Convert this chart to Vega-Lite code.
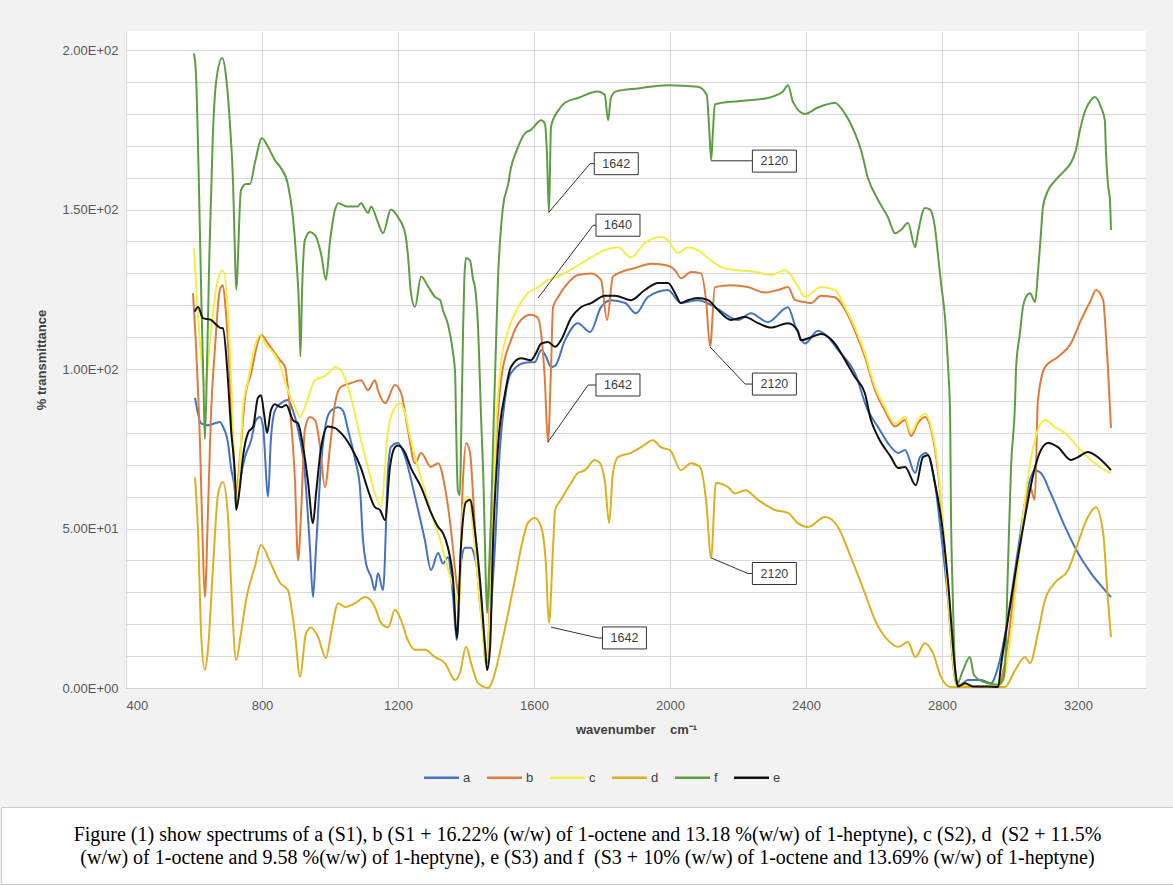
{
"$schema":"https://vega.github.io/schema/vega-lite/v6.json",
"background":"#f2f2f2",
"padding":{"left":0,"top":31,"right":0,"bottom":0},
"config":{"font":"Liberation Sans","view":{"stroke":null}},
"datasets":{
"cap":[{"t":"Figure (1) show spectrums of a (S1), b (S1 + 16.22% (w/w) of 1-octene and 13.18 %(w/w) of 1-heptyne), c (S2), d \u00a0(S2 + 11.5%\n(w/w) of 1-octene and 9.58 %(w/w) of 1-heptyne), e (S3) and f \u00a0(S3 + 10% (w/w) of 1-octene and 13.69% (w/w) of 1-heptyne)"}],
"boxes":[{"t":"1642","w":1842,"v":164.4},{"t":"1640","w":1847,"v":145.1},{"t":"1642","w":1847,"v":95.0},{"t":"2120","w":2307,"v":165.2},{"t":"2120","w":2307,"v":95.3},{"t":"2120","w":2307,"v":35.9},{"t":"1642","w":1866,"v":15.7}],
"leaders":[
{"id":1,"w":1644,"v":149.2},{"id":1,"w":1765,"v":164.4},{"id":1,"w":1778,"v":164.4},
{"id":2,"w":1612,"v":122.3},{"id":2,"w":1774,"v":145.1},{"id":2,"w":1783,"v":145.1},
{"id":3,"w":1641,"v":77.1},{"id":3,"w":1759,"v":95.0},{"id":3,"w":1783,"v":95.0},
{"id":4,"w":2121,"v":165.3},{"id":4,"w":2243,"v":165.3},
{"id":5,"w":2118,"v":106.9},{"id":5,"w":2221,"v":95.3},{"id":5,"w":2243,"v":95.3},
{"id":6,"w":2121,"v":40.8},{"id":6,"w":2229,"v":35.9},{"id":6,"w":2243,"v":35.9},
{"id":7,"w":1650,"v":19.1},{"id":7,"w":1788,"v":15.7},{"id":7,"w":1802,"v":15.7}],
"spec":[
{"s":"a","w":603,"v":91},{"s":"a","w":621,"v":83},{"s":"a","w":641,"v":82.4},{"s":"a","w":662,"v":83},{"s":"a","w":676,"v":83.4},{"s":"a","w":685,"v":82},{"s":"a","w":700,"v":76.8},{"s":"a","w":709,"v":69},{"s":"a","w":721,"v":61},{"s":"a","w":724,"v":56.7},{"s":"a","w":735,"v":65},{"s":"a","w":750,"v":72.4},{"s":"a","w":768,"v":77.7},{"s":"a","w":782,"v":84},{"s":"a","w":794,"v":85},{"s":"a","w":803,"v":82},{"s":"a","w":818,"v":60},{"s":"a","w":826,"v":77.7},{"s":"a","w":838,"v":87},{"s":"a","w":856,"v":89.3},{"s":"a","w":876,"v":90.3},{"s":"a","w":891,"v":87},{"s":"a","w":906,"v":81},{"s":"a","w":926,"v":67.4},{"s":"a","w":941,"v":44},{"s":"a","w":950,"v":28.5},{"s":"a","w":959,"v":44},{"s":"a","w":974,"v":70.5},{"s":"a","w":988,"v":83},{"s":"a","w":1003,"v":87},{"s":"a","w":1024,"v":88},{"s":"a","w":1038,"v":87},{"s":"a","w":1053,"v":81},{"s":"a","w":1074,"v":71.5},{"s":"a","w":1088,"v":63},{"s":"a","w":1097,"v":46.4},{"s":"a","w":1106,"v":39},{"s":"a","w":1121,"v":34.8},{"s":"a","w":1132,"v":30.7},{"s":"a","w":1141,"v":36},{"s":"a","w":1156,"v":30.7},{"s":"a","w":1171,"v":69},{"s":"a","w":1179,"v":75.5},{"s":"a","w":1200,"v":76.8},{"s":"a","w":1221,"v":72.4},{"s":"a","w":1250,"v":60},{"s":"a","w":1279,"v":46.4},{"s":"a","w":1297,"v":37},{"s":"a","w":1318,"v":42.3},{"s":"a","w":1332,"v":39},{"s":"a","w":1347,"v":41},{"s":"a","w":1362,"v":28.5},{"s":"a","w":1373,"v":15},{"s":"a","w":1385,"v":39},{"s":"a","w":1397,"v":44},{"s":"a","w":1415,"v":44},{"s":"a","w":1426,"v":41},{"s":"a","w":1444,"v":28.5},{"s":"a","w":1459,"v":7.8},{"s":"a","w":1474,"v":25},{"s":"a","w":1485,"v":44},{"s":"a","w":1500,"v":75.5},{"s":"a","w":1515,"v":91},{"s":"a","w":1532,"v":98.7},{"s":"a","w":1573,"v":102},{"s":"a","w":1603,"v":102.2},{"s":"a","w":1621,"v":106},{"s":"a","w":1635,"v":104},{"s":"a","w":1650,"v":100.6},{"s":"a","w":1662,"v":101},{"s":"a","w":1691,"v":109},{"s":"a","w":1729,"v":114.4},{"s":"a","w":1765,"v":111.6},{"s":"a","w":1797,"v":119.4},{"s":"a","w":1826,"v":121.6},{"s":"a","w":1868,"v":120.7},{"s":"a","w":1900,"v":117.5},{"s":"a","w":1935,"v":122.6},{"s":"a","w":1994,"v":124.8},{"s":"a","w":2032,"v":120.7},{"s":"a","w":2082,"v":121.6},{"s":"a","w":2132,"v":119.4},{"s":"a","w":2200,"v":115.4},{"s":"a","w":2238,"v":117.5},{"s":"a","w":2288,"v":114.7},{"s":"a","w":2347,"v":119.4},{"s":"a","w":2370,"v":113},{"s":"a","w":2397,"v":108},{"s":"a","w":2435,"v":112},{"s":"a","w":2465,"v":110},{"s":"a","w":2494,"v":106},{"s":"a","w":2544,"v":98.7},{"s":"a","w":2582,"v":87},{"s":"a","w":2612,"v":81.8},{"s":"a","w":2641,"v":76.8},{"s":"a","w":2671,"v":73.7},{"s":"a","w":2691,"v":74.6},{"s":"a","w":2721,"v":67.4},{"s":"a","w":2735,"v":72.4},{"s":"a","w":2753,"v":73.7},{"s":"a","w":2779,"v":64.3},{"s":"a","w":2797,"v":48.6},{"s":"a","w":2818,"v":27.6},{"s":"a","w":2838,"v":3.5},{"s":"a","w":2853,"v":1},{"s":"a","w":2876,"v":2.5},{"s":"a","w":2915,"v":2.5},{"s":"a","w":2944,"v":1.5},{"s":"a","w":2965,"v":6.6},{"s":"a","w":2994,"v":22},{"s":"a","w":3023,"v":43},{"s":"a","w":3053,"v":63},{"s":"a","w":3073,"v":68.3},{"s":"a","w":3091,"v":67.4},{"s":"a","w":3120,"v":61},{"s":"a","w":3162,"v":50.5},{"s":"a","w":3200,"v":42.3},{"s":"a","w":3238,"v":36},{"s":"a","w":3279,"v":30.7},{"s":"a","w":3297,"v":28.5},
{"s":"b","w":597,"v":123.8},{"s":"b","w":606,"v":107},{"s":"b","w":618,"v":75.5},{"s":"b","w":626,"v":44},{"s":"b","w":632,"v":28.5},{"s":"b","w":641,"v":54.9},{"s":"b","w":650,"v":86},{"s":"b","w":662,"v":107},{"s":"b","w":676,"v":124.8},{"s":"b","w":685,"v":126.3},{"s":"b","w":694,"v":117.5},{"s":"b","w":706,"v":96.5},{"s":"b","w":715,"v":75.5},{"s":"b","w":724,"v":61},{"s":"b","w":735,"v":72},{"s":"b","w":750,"v":91},{"s":"b","w":768,"v":98.7},{"s":"b","w":788,"v":108.5},{"s":"b","w":797,"v":110.7},{"s":"b","w":818,"v":108},{"s":"b","w":838,"v":105},{"s":"b","w":853,"v":102.8},{"s":"b","w":868,"v":100.6},{"s":"b","w":876,"v":94.4},{"s":"b","w":885,"v":84},{"s":"b","w":897,"v":65},{"s":"b","w":906,"v":40},{"s":"b","w":915,"v":55},{"s":"b","w":926,"v":81},{"s":"b","w":941,"v":85},{"s":"b","w":956,"v":84},{"s":"b","w":971,"v":75.5},{"s":"b","w":985,"v":63},{"s":"b","w":1000,"v":75.5},{"s":"b","w":1015,"v":89.3},{"s":"b","w":1032,"v":94.4},{"s":"b","w":1062,"v":95.6},{"s":"b","w":1091,"v":96.5},{"s":"b","w":1112,"v":93.4},{"s":"b","w":1132,"v":96.5},{"s":"b","w":1141,"v":93.4},{"s":"b","w":1162,"v":89.3},{"s":"b","w":1191,"v":95},{"s":"b","w":1209,"v":92.5},{"s":"b","w":1229,"v":81},{"s":"b","w":1250,"v":70.5},{"s":"b","w":1268,"v":73.7},{"s":"b","w":1297,"v":69.3},{"s":"b","w":1318,"v":70.5},{"s":"b","w":1338,"v":63},{"s":"b","w":1356,"v":49.5},{"s":"b","w":1371,"v":34},{"s":"b","w":1379,"v":28.5},{"s":"b","w":1391,"v":65},{"s":"b","w":1400,"v":76.8},{"s":"b","w":1412,"v":73.7},{"s":"b","w":1421,"v":60},{"s":"b","w":1435,"v":34},{"s":"b","w":1456,"v":13},{"s":"b","w":1462,"v":7.8},{"s":"b","w":1474,"v":44},{"s":"b","w":1488,"v":75.5},{"s":"b","w":1503,"v":96.5},{"s":"b","w":1532,"v":109},{"s":"b","w":1562,"v":115.4},{"s":"b","w":1591,"v":117},{"s":"b","w":1612,"v":116},{"s":"b","w":1621,"v":111},{"s":"b","w":1632,"v":96.5},{"s":"b","w":1641,"v":77.1},{"s":"b","w":1650,"v":100},{"s":"b","w":1656,"v":119.4},{"s":"b","w":1671,"v":122.6},{"s":"b","w":1700,"v":127},{"s":"b","w":1729,"v":129.5},{"s":"b","w":1768,"v":130},{"s":"b","w":1797,"v":128},{"s":"b","w":1815,"v":115.4},{"s":"b","w":1832,"v":129},{"s":"b","w":1856,"v":130.4},{"s":"b","w":1897,"v":131.7},{"s":"b","w":1944,"v":133},{"s":"b","w":1985,"v":132.6},{"s":"b","w":2015,"v":131},{"s":"b","w":2032,"v":128.5},{"s":"b","w":2062,"v":130.4},{"s":"b","w":2091,"v":130},{"s":"b","w":2106,"v":121.6},{"s":"b","w":2118,"v":107},{"s":"b","w":2132,"v":125.7},{"s":"b","w":2179,"v":126.3},{"s":"b","w":2229,"v":125.7},{"s":"b","w":2279,"v":124},{"s":"b","w":2318,"v":124.8},{"s":"b","w":2347,"v":125.7},{"s":"b","w":2368,"v":121.6},{"s":"b","w":2397,"v":121},{"s":"b","w":2415,"v":120.7},{"s":"b","w":2444,"v":123},{"s":"b","w":2485,"v":122.5},{"s":"b","w":2515,"v":118.5},{"s":"b","w":2544,"v":112},{"s":"b","w":2573,"v":104},{"s":"b","w":2603,"v":93.4},{"s":"b","w":2632,"v":87},{"s":"b","w":2662,"v":82},{"s":"b","w":2691,"v":84},{"s":"b","w":2709,"v":79},{"s":"b","w":2729,"v":83},{"s":"b","w":2750,"v":85},{"s":"b","w":2768,"v":81},{"s":"b","w":2788,"v":68},{"s":"b","w":2809,"v":42},{"s":"b","w":2826,"v":16},{"s":"b","w":2841,"v":1.5},{"s":"b","w":2891,"v":0.5},{"s":"b","w":2965,"v":0.5},{"s":"b","w":2985,"v":8},{"s":"b","w":3015,"v":33},{"s":"b","w":3044,"v":55},{"s":"b","w":3059,"v":63},{"s":"b","w":3073,"v":59},{"s":"b","w":3082,"v":90},{"s":"b","w":3103,"v":100.6},{"s":"b","w":3141,"v":103.8},{"s":"b","w":3179,"v":108},{"s":"b","w":3209,"v":115.4},{"s":"b","w":3238,"v":121.6},{"s":"b","w":3253,"v":124.8},{"s":"b","w":3274,"v":121.6},{"s":"b","w":3282,"v":111},{"s":"b","w":3288,"v":100.6},{"s":"b","w":3297,"v":81.5},
{"s":"c","w":600,"v":138},{"s":"c","w":615,"v":112},{"s":"c","w":632,"v":95},{"s":"c","w":650,"v":112},{"s":"c","w":670,"v":128},{"s":"c","w":685,"v":131},{"s":"c","w":700,"v":118},{"s":"c","w":712,"v":90},{"s":"c","w":724,"v":58},{"s":"c","w":735,"v":70},{"s":"c","w":744,"v":88},{"s":"c","w":759,"v":96.5},{"s":"c","w":779,"v":107},{"s":"c","w":794,"v":110.7},{"s":"c","w":809,"v":108},{"s":"c","w":826,"v":106},{"s":"c","w":847,"v":102.8},{"s":"c","w":876,"v":93.4},{"s":"c","w":897,"v":88},{"s":"c","w":912,"v":85},{"s":"c","w":926,"v":88},{"s":"c","w":956,"v":96.5},{"s":"c","w":988,"v":98},{"s":"c","w":1015,"v":100.6},{"s":"c","w":1032,"v":99.7},{"s":"c","w":1062,"v":91},{"s":"c","w":1091,"v":77.7},{"s":"c","w":1112,"v":69},{"s":"c","w":1132,"v":61},{"s":"c","w":1150,"v":57},{"s":"c","w":1171,"v":81},{"s":"c","w":1191,"v":88},{"s":"c","w":1206,"v":89.3},{"s":"c","w":1221,"v":86},{"s":"c","w":1238,"v":77.7},{"s":"c","w":1259,"v":69},{"s":"c","w":1279,"v":62},{"s":"c","w":1297,"v":55},{"s":"c","w":1318,"v":48.6},{"s":"c","w":1338,"v":41},{"s":"c","w":1356,"v":34},{"s":"c","w":1371,"v":28.5},{"s":"c","w":1379,"v":25},{"s":"c","w":1391,"v":56.7},{"s":"c","w":1406,"v":60},{"s":"c","w":1426,"v":44},{"s":"c","w":1444,"v":23.5},{"s":"c","w":1459,"v":7.8},{"s":"c","w":1474,"v":34},{"s":"c","w":1488,"v":81},{"s":"c","w":1503,"v":102},{"s":"c","w":1524,"v":112},{"s":"c","w":1553,"v":119.4},{"s":"c","w":1582,"v":123.8},{"s":"c","w":1612,"v":125.7},{"s":"c","w":1641,"v":128},{"s":"c","w":1671,"v":129},{"s":"c","w":1721,"v":132},{"s":"c","w":1768,"v":135},{"s":"c","w":1809,"v":137.3},{"s":"c","w":1847,"v":138.2},{"s":"c","w":1885,"v":135},{"s":"c","w":1926,"v":139.5},{"s":"c","w":1973,"v":141.4},{"s":"c","w":1994,"v":140.4},{"s":"c","w":2023,"v":136.4},{"s":"c","w":2053,"v":138.2},{"s":"c","w":2082,"v":137.3},{"s":"c","w":2121,"v":134},{"s":"c","w":2162,"v":131.5},{"s":"c","w":2200,"v":131},{"s":"c","w":2250,"v":130.5},{"s":"c","w":2297,"v":129.5},{"s":"c","w":2338,"v":131},{"s":"c","w":2376,"v":126},{"s":"c","w":2397,"v":122.6},{"s":"c","w":2444,"v":125.7},{"s":"c","w":2485,"v":124.8},{"s":"c","w":2515,"v":119.4},{"s":"c","w":2544,"v":113},{"s":"c","w":2573,"v":105},{"s":"c","w":2603,"v":94.4},{"s":"c","w":2632,"v":88},{"s":"c","w":2662,"v":83},{"s":"c","w":2691,"v":85},{"s":"c","w":2709,"v":80},{"s":"c","w":2729,"v":84},{"s":"c","w":2750,"v":86},{"s":"c","w":2768,"v":81.8},{"s":"c","w":2788,"v":69.3},{"s":"c","w":2809,"v":43},{"s":"c","w":2826,"v":17},{"s":"c","w":2841,"v":1.6},{"s":"c","w":2906,"v":0.5},{"s":"c","w":2974,"v":1},{"s":"c","w":3003,"v":17},{"s":"c","w":3023,"v":38},{"s":"c","w":3044,"v":59},{"s":"c","w":3073,"v":77.7},{"s":"c","w":3103,"v":84},{"s":"c","w":3132,"v":81.8},{"s":"c","w":3162,"v":80},{"s":"c","w":3200,"v":75.5},{"s":"c","w":3238,"v":71.5},{"s":"c","w":3279,"v":68.3},{"s":"c","w":3297,"v":67.4},
{"s":"d","w":603,"v":66},{"s":"d","w":612,"v":48.6},{"s":"d","w":621,"v":17},{"s":"d","w":632,"v":5.6},{"s":"d","w":641,"v":12},{"s":"d","w":656,"v":38},{"s":"d","w":671,"v":61},{"s":"d","w":685,"v":64.6},{"s":"d","w":700,"v":53.6},{"s":"d","w":709,"v":33},{"s":"d","w":724,"v":8.8},{"s":"d","w":738,"v":17},{"s":"d","w":753,"v":27.6},{"s":"d","w":779,"v":38},{"s":"d","w":797,"v":44.8},{"s":"d","w":826,"v":39},{"s":"d","w":853,"v":33},{"s":"d","w":876,"v":30.7},{"s":"d","w":897,"v":17},{"s":"d","w":912,"v":3.5},{"s":"d","w":929,"v":17},{"s":"d","w":944,"v":19},{"s":"d","w":965,"v":16},{"s":"d","w":988,"v":9.4},{"s":"d","w":1003,"v":17},{"s":"d","w":1024,"v":26.6},{"s":"d","w":1044,"v":25.4},{"s":"d","w":1074,"v":26.6},{"s":"d","w":1103,"v":28.5},{"s":"d","w":1132,"v":25.4},{"s":"d","w":1150,"v":20.4},{"s":"d","w":1171,"v":19},{"s":"d","w":1191,"v":24.5},{"s":"d","w":1209,"v":21.3},{"s":"d","w":1229,"v":15},{"s":"d","w":1250,"v":12},{"s":"d","w":1279,"v":12},{"s":"d","w":1309,"v":9.7},{"s":"d","w":1338,"v":7.8},{"s":"d","w":1368,"v":2.5},{"s":"d","w":1382,"v":4.7},{"s":"d","w":1400,"v":12.9},{"s":"d","w":1415,"v":7.8},{"s":"d","w":1435,"v":1.6},{"s":"d","w":1465,"v":0},{"s":"d","w":1485,"v":4.7},{"s":"d","w":1503,"v":12.9},{"s":"d","w":1524,"v":23.5},{"s":"d","w":1544,"v":34},{"s":"d","w":1562,"v":44},{"s":"d","w":1582,"v":51.7},{"s":"d","w":1603,"v":53.3},{"s":"d","w":1621,"v":50.5},{"s":"d","w":1635,"v":39},{"s":"d","w":1644,"v":20.4},{"s":"d","w":1656,"v":44},{"s":"d","w":1662,"v":55.8},{"s":"d","w":1679,"v":59},{"s":"d","w":1709,"v":64.3},{"s":"d","w":1729,"v":67.4},{"s":"d","w":1750,"v":68.3},{"s":"d","w":1779,"v":71.5},{"s":"d","w":1794,"v":70.5},{"s":"d","w":1809,"v":64.3},{"s":"d","w":1821,"v":51.7},{"s":"d","w":1832,"v":67.4},{"s":"d","w":1847,"v":72.4},{"s":"d","w":1885,"v":73.7},{"s":"d","w":1915,"v":75.5},{"s":"d","w":1950,"v":77.7},{"s":"d","w":1973,"v":75.5},{"s":"d","w":2000,"v":74.6},{"s":"d","w":2032,"v":68.3},{"s":"d","w":2062,"v":70.5},{"s":"d","w":2088,"v":69.3},{"s":"d","w":2106,"v":59},{"s":"d","w":2121,"v":40.8},{"s":"d","w":2135,"v":64.3},{"s":"d","w":2171,"v":63},{"s":"d","w":2191,"v":61},{"s":"d","w":2221,"v":62},{"s":"d","w":2259,"v":59},{"s":"d","w":2309,"v":55.8},{"s":"d","w":2347,"v":54.9},{"s":"d","w":2376,"v":51.7},{"s":"d","w":2406,"v":50.5},{"s":"d","w":2456,"v":53.6},{"s":"d","w":2494,"v":50.5},{"s":"d","w":2532,"v":41},{"s":"d","w":2573,"v":29.8},{"s":"d","w":2603,"v":21.3},{"s":"d","w":2641,"v":15},{"s":"d","w":2671,"v":12.9},{"s":"d","w":2700,"v":14.4},{"s":"d","w":2721,"v":9.7},{"s":"d","w":2750,"v":14},{"s":"d","w":2773,"v":11},{"s":"d","w":2797,"v":3.5},{"s":"d","w":2826,"v":0.3},{"s":"d","w":2985,"v":0.3},{"s":"d","w":3015,"v":5.6},{"s":"d","w":3044,"v":9.7},{"s":"d","w":3059,"v":7.8},{"s":"d","w":3082,"v":17},{"s":"d","w":3103,"v":27.6},{"s":"d","w":3132,"v":33},{"s":"d","w":3171,"v":37},{"s":"d","w":3200,"v":45.5},{"s":"d","w":3229,"v":53.6},{"s":"d","w":3253,"v":56.7},{"s":"d","w":3274,"v":48.6},{"s":"d","w":3288,"v":27.6},{"s":"d","w":3297,"v":16},
{"s":"f","w":600,"v":199},{"s":"f","w":606,"v":192},{"s":"f","w":614,"v":160},{"s":"f","w":622,"v":120},{"s":"f","w":628,"v":95},{"s":"f","w":632,"v":78},{"s":"f","w":638,"v":100},{"s":"f","w":645,"v":135},{"s":"f","w":655,"v":172},{"s":"f","w":665,"v":190},{"s":"f","w":683,"v":197.5},{"s":"f","w":695,"v":191},{"s":"f","w":705,"v":178},{"s":"f","w":715,"v":158},{"s":"f","w":720,"v":138},{"s":"f","w":724,"v":125},{"s":"f","w":738,"v":156},{"s":"f","w":753,"v":158},{"s":"f","w":765,"v":158},{"s":"f","w":779,"v":164.6},{"s":"f","w":800,"v":172.4},{"s":"f","w":818,"v":169.6},{"s":"f","w":838,"v":165.5},{"s":"f","w":856,"v":163},{"s":"f","w":876,"v":158},{"s":"f","w":891,"v":147.6},{"s":"f","w":900,"v":136},{"s":"f","w":909,"v":119},{"s":"f","w":913,"v":104},{"s":"f","w":918,"v":125},{"s":"f","w":926,"v":140.4},{"s":"f","w":941,"v":143},{"s":"f","w":956,"v":142},{"s":"f","w":974,"v":136},{"s":"f","w":988,"v":128},{"s":"f","w":1000,"v":140},{"s":"f","w":1015,"v":150},{"s":"f","w":1024,"v":152},{"s":"f","w":1050,"v":151},{"s":"f","w":1082,"v":151},{"s":"f","w":1091,"v":152},{"s":"f","w":1112,"v":149},{"s":"f","w":1121,"v":151},{"s":"f","w":1141,"v":146},{"s":"f","w":1156,"v":142.6},{"s":"f","w":1179,"v":150},{"s":"f","w":1200,"v":147.6},{"s":"f","w":1221,"v":142.6},{"s":"f","w":1229,"v":136},{"s":"f","w":1238,"v":124},{"s":"f","w":1250,"v":119.5},{"s":"f","w":1268,"v":129},{"s":"f","w":1288,"v":126},{"s":"f","w":1309,"v":122.6},{"s":"f","w":1324,"v":121.6},{"s":"f","w":1332,"v":118.5},{"s":"f","w":1347,"v":114},{"s":"f","w":1362,"v":105},{"s":"f","w":1368,"v":98.7},{"s":"f","w":1371,"v":82},{"s":"f","w":1376,"v":62},{"s":"f","w":1382,"v":60.5},{"s":"f","w":1386,"v":80},{"s":"f","w":1391,"v":110},{"s":"f","w":1395,"v":128},{"s":"f","w":1400,"v":134.8},{"s":"f","w":1412,"v":134},{"s":"f","w":1421,"v":128},{"s":"f","w":1426,"v":126},{"s":"f","w":1435,"v":114},{"s":"f","w":1444,"v":86},{"s":"f","w":1452,"v":62},{"s":"f","w":1458,"v":35},{"s":"f","w":1462,"v":23.5},{"s":"f","w":1467,"v":35},{"s":"f","w":1474,"v":55},{"s":"f","w":1482,"v":86},{"s":"f","w":1488,"v":107},{"s":"f","w":1494,"v":128},{"s":"f","w":1500,"v":140},{"s":"f","w":1509,"v":151},{"s":"f","w":1524,"v":158},{"s":"f","w":1532,"v":163},{"s":"f","w":1547,"v":168},{"s":"f","w":1574,"v":174},{"s":"f","w":1591,"v":175},{"s":"f","w":1621,"v":178},{"s":"f","w":1632,"v":177},{"s":"f","w":1638,"v":168},{"s":"f","w":1644,"v":149},{"s":"f","w":1650,"v":176},{"s":"f","w":1671,"v":181},{"s":"f","w":1691,"v":183.5},{"s":"f","w":1729,"v":185},{"s":"f","w":1788,"v":187},{"s":"f","w":1808,"v":186},{"s":"f","w":1818,"v":178},{"s":"f","w":1826,"v":185},{"s":"f","w":1840,"v":187},{"s":"f","w":1906,"v":188},{"s":"f","w":1994,"v":189},{"s":"f","w":2082,"v":188.5},{"s":"f","w":2108,"v":186},{"s":"f","w":2115,"v":176},{"s":"f","w":2121,"v":165.5},{"s":"f","w":2126,"v":174},{"s":"f","w":2132,"v":183},{"s":"f","w":2200,"v":184},{"s":"f","w":2288,"v":185},{"s":"f","w":2332,"v":187},{"s":"f","w":2347,"v":189},{"s":"f","w":2362,"v":183.7},{"s":"f","w":2397,"v":180},{"s":"f","w":2435,"v":182},{"s":"f","w":2485,"v":183.4},{"s":"f","w":2515,"v":180},{"s":"f","w":2544,"v":174},{"s":"f","w":2562,"v":168.6},{"s":"f","w":2582,"v":160},{"s":"f","w":2612,"v":153},{"s":"f","w":2641,"v":147.6},{"s":"f","w":2662,"v":142.6},{"s":"f","w":2679,"v":143.6},{"s":"f","w":2700,"v":145.8},{"s":"f","w":2721,"v":138.2},{"s":"f","w":2729,"v":142.6},{"s":"f","w":2750,"v":150.5},{"s":"f","w":2765,"v":150},{"s":"f","w":2779,"v":144.5},{"s":"f","w":2788,"v":136},{"s":"f","w":2797,"v":127},{"s":"f","w":2809,"v":116},{"s":"f","w":2818,"v":100.6},{"s":"f","w":2824,"v":85},{"s":"f","w":2826,"v":59},{"s":"f","w":2832,"v":27.6},{"s":"f","w":2838,"v":6.6},{"s":"f","w":2843,"v":1},{"s":"f","w":2862,"v":5.6},{"s":"f","w":2882,"v":9.7},{"s":"f","w":2894,"v":4},{"s":"f","w":2920,"v":2},{"s":"f","w":2965,"v":1},{"s":"f","w":2979,"v":2.5},{"s":"f","w":2985,"v":6.6},{"s":"f","w":2994,"v":38},{"s":"f","w":3003,"v":69},{"s":"f","w":3015,"v":90},{"s":"f","w":3018,"v":100.6},{"s":"f","w":3029,"v":111},{"s":"f","w":3038,"v":119.4},{"s":"f","w":3047,"v":122.6},{"s":"f","w":3059,"v":123.8},{"s":"f","w":3074,"v":121},{"s":"f","w":3082,"v":130},{"s":"f","w":3091,"v":142.6},{"s":"f","w":3097,"v":150.8},{"s":"f","w":3112,"v":156},{"s":"f","w":3132,"v":159},{"s":"f","w":3162,"v":162.4},{"s":"f","w":3179,"v":164.6},{"s":"f","w":3194,"v":168.7},{"s":"f","w":3206,"v":175},{"s":"f","w":3221,"v":181},{"s":"f","w":3238,"v":184.3},{"s":"f","w":3250,"v":185.3},{"s":"f","w":3268,"v":182},{"s":"f","w":3279,"v":178},{"s":"f","w":3282,"v":168.7},{"s":"f","w":3288,"v":158},{"s":"f","w":3294,"v":153},{"s":"f","w":3297,"v":143.6},
{"s":"e","w":602,"v":118},{"s":"e","w":612,"v":119.5},{"s":"e","w":626,"v":116},{"s":"e","w":650,"v":115.4},{"s":"e","w":676,"v":113},{"s":"e","w":685,"v":112.8},{"s":"e","w":700,"v":96.5},{"s":"e","w":709,"v":81},{"s":"e","w":721,"v":65},{"s":"e","w":724,"v":55.8},{"s":"e","w":735,"v":63},{"s":"e","w":744,"v":72.4},{"s":"e","w":759,"v":80},{"s":"e","w":774,"v":82},{"s":"e","w":788,"v":91},{"s":"e","w":797,"v":91.8},{"s":"e","w":806,"v":86},{"s":"e","w":815,"v":80},{"s":"e","w":826,"v":87},{"s":"e","w":838,"v":89},{"s":"e","w":856,"v":88},{"s":"e","w":871,"v":88.7},{"s":"e","w":891,"v":84},{"s":"e","w":906,"v":83},{"s":"e","w":921,"v":75.5},{"s":"e","w":935,"v":65},{"s":"e","w":950,"v":51.7},{"s":"e","w":959,"v":61},{"s":"e","w":974,"v":75.5},{"s":"e","w":994,"v":82},{"s":"e","w":1015,"v":81.5},{"s":"e","w":1032,"v":80},{"s":"e","w":1062,"v":75.5},{"s":"e","w":1091,"v":69},{"s":"e","w":1112,"v":62},{"s":"e","w":1132,"v":56.7},{"s":"e","w":1147,"v":55.8},{"s":"e","w":1162,"v":52.7},{"s":"e","w":1176,"v":69},{"s":"e","w":1191,"v":75.5},{"s":"e","w":1200,"v":76},{"s":"e","w":1221,"v":73.7},{"s":"e","w":1238,"v":69},{"s":"e","w":1268,"v":63},{"s":"e","w":1297,"v":55},{"s":"e","w":1318,"v":50.5},{"s":"e","w":1332,"v":48.6},{"s":"e","w":1347,"v":44},{"s":"e","w":1362,"v":34},{"s":"e","w":1373,"v":15.7},{"s":"e","w":1385,"v":44},{"s":"e","w":1400,"v":58.3},{"s":"e","w":1412,"v":59},{"s":"e","w":1426,"v":49.5},{"s":"e","w":1441,"v":34},{"s":"e","w":1456,"v":13},{"s":"e","w":1462,"v":5.6},{"s":"e","w":1471,"v":13},{"s":"e","w":1479,"v":44},{"s":"e","w":1494,"v":75.5},{"s":"e","w":1515,"v":92.5},{"s":"e","w":1532,"v":100.6},{"s":"e","w":1562,"v":103.4},{"s":"e","w":1591,"v":102.8},{"s":"e","w":1606,"v":105},{"s":"e","w":1621,"v":108},{"s":"e","w":1641,"v":108.5},{"s":"e","w":1662,"v":107},{"s":"e","w":1679,"v":109},{"s":"e","w":1709,"v":116},{"s":"e","w":1738,"v":119.4},{"s":"e","w":1768,"v":120.7},{"s":"e","w":1809,"v":123},{"s":"e","w":1838,"v":123},{"s":"e","w":1885,"v":121.6},{"s":"e","w":1926,"v":124.8},{"s":"e","w":1965,"v":127},{"s":"e","w":1994,"v":127},{"s":"e","w":2015,"v":123.8},{"s":"e","w":2032,"v":120.7},{"s":"e","w":2053,"v":121.6},{"s":"e","w":2082,"v":122.3},{"s":"e","w":2112,"v":121.6},{"s":"e","w":2141,"v":118.5},{"s":"e","w":2179,"v":115.4},{"s":"e","w":2221,"v":116.3},{"s":"e","w":2259,"v":114.4},{"s":"e","w":2297,"v":113},{"s":"e","w":2347,"v":114.4},{"s":"e","w":2376,"v":112},{"s":"e","w":2385,"v":109},{"s":"e","w":2415,"v":110},{"s":"e","w":2444,"v":111},{"s":"e","w":2485,"v":108},{"s":"e","w":2515,"v":102.8},{"s":"e","w":2544,"v":97.5},{"s":"e","w":2573,"v":92.5},{"s":"e","w":2591,"v":84},{"s":"e","w":2612,"v":78.7},{"s":"e","w":2650,"v":72.4},{"s":"e","w":2671,"v":69},{"s":"e","w":2691,"v":69.3},{"s":"e","w":2723,"v":63.6},{"s":"e","w":2744,"v":72.4},{"s":"e","w":2759,"v":73},{"s":"e","w":2779,"v":64.3},{"s":"e","w":2797,"v":53.6},{"s":"e","w":2818,"v":33},{"s":"e","w":2838,"v":6.6},{"s":"e","w":2847,"v":0.5},{"s":"e","w":2868,"v":1.5},{"s":"e","w":2891,"v":0.5},{"s":"e","w":2935,"v":0.5},{"s":"e","w":2965,"v":0.3},{"s":"e","w":2973,"v":6.6},{"s":"e","w":3003,"v":27.6},{"s":"e","w":3044,"v":53.6},{"s":"e","w":3073,"v":69},{"s":"e","w":3091,"v":74.6},{"s":"e","w":3112,"v":76.8},{"s":"e","w":3141,"v":75.5},{"s":"e","w":3179,"v":71.5},{"s":"e","w":3200,"v":72.4},{"s":"e","w":3229,"v":74},{"s":"e","w":3268,"v":71.5},{"s":"e","w":3297,"v":68.3}
]},
"vconcat":[
{"hconcat":[
{"width":1,"height":20,"data":{"values":[{}]},"mark":{"type":"text","text":""},"encoding":{},"view":{"stroke":null}},
{"width":1020,"height":657,
"view":{"fill":"white","stroke":null},
"encoding":{
"x":{"field":"w","type":"quantitative","scale":{"domain":[400,3400],"nice":false,"zero":false},
"axis":{"values":[400,800,1200,1600,2000,2400,2800,3200],"format":"d","grid":true,"gridColor":"#d9d9d9","ticks":false,"tickSize":0,"domain":true,"domainColor":"#d0d0d0","labelPadding":11,"labelFontSize":13,"labelColor":"#595959","labelFont":"Liberation Sans","titleFont":"Liberation Sans","titleFontSize":13,"titleFontWeight":"bold","titleColor":"#404040","titlePadding":11},
"title":"wavenumber\u00a0\u00a0\u00a0\u00a0cm\u207b\u00b9"},
"y":{"field":"v","type":"quantitative","scale":{"domain":[0,206],"nice":false},
"axis":{"values":[0,10,20,30,40,50,60,70,80,90,100,110,120,130,140,150,160,170,180,190,200],"labelExpr":"datum.value==200?'2.00E+02':datum.value==150?'1.50E+02':datum.value==100?'1.00E+02':datum.value==50?'5.00E+01':datum.value==0?'0.00E+00':''","grid":true,"gridColor":"#d9d9d9","ticks":false,"tickSize":0,"domain":false,"labelPadding":8,"labelFontSize":13,"labelColor":"#595959","labelFont":"Liberation Sans","titleFont":"Liberation Sans","titleFontSize":13,"titleFontWeight":"bold","titleColor":"#404040","titlePadding":13},
"title":"% transmittance"}
},
"layer":[
{"data":{"name":"spec"},"mark":{"type":"line","strokeWidth":2,"interpolate":"monotone"},
"encoding":{"color":{"field":"s","type":"nominal","sort":null,"scale":{"domain":["a","b","c","d","f","e"],"range":["#4472c4","#e07b3c","#f3ee45","#dcb020","#5e9d44","#111111"]},
"legend":{"title":null,"orient":"none","legendX":432,"legendY":738,"direction":"horizontal","symbolType":"M-2.5,0H2.5","symbolSize":196,"symbolStrokeWidth":2.5,"labelFontSize":13,"labelColor":"#404040","labelFont":"Liberation Sans","labelOffset":13,"labelBaseline":"middle","columnPadding":11,"padding":0}}}},
{"data":{"name":"leaders"},"mark":{"type":"line","color":"#333333","strokeWidth":1},"encoding":{"detail":{"field":"id","type":"nominal"}}},
{"data":{"name":"boxes"},"mark":{"type":"point","shape":"M-1,-0.5H1V0.5H-1Z","size":1936,"filled":true,"fill":"white","stroke":"#333333","strokeWidth":1,"opacity":1}},
{"data":{"name":"boxes"},"mark":{"type":"text","fontSize":12.5,"color":"#404040","font":"Liberation Sans"},"encoding":{"text":{"field":"t"}}}
]}
],"spacing":33},
{"width":1173,"height":77,"view":{"fill":"white","stroke":"#cccccc"},"data":{"name":"cap"},
"mark":{"type":"text","font":"Liberation Serif","fontSize":20,"lineBreak":"\n","lineHeight":23,"color":"black","dy":-11},
"encoding":{"text":{"field":"t"}}}
],
"spacing":70
}
